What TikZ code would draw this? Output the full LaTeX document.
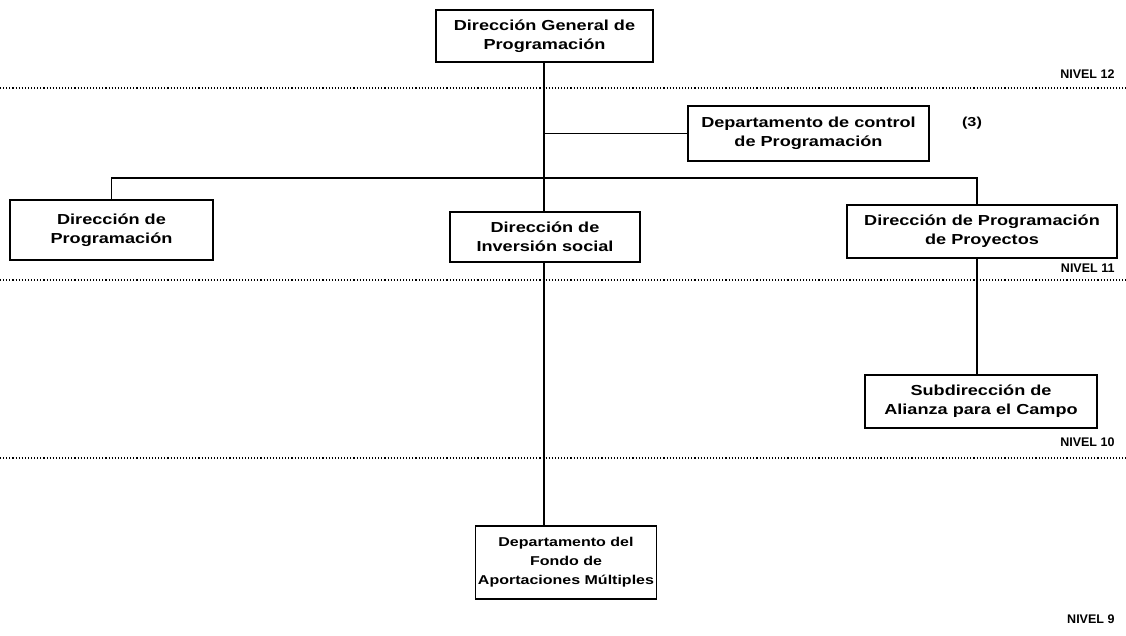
\documentclass[tikz,border=0pt]{standalone}
\usepackage{fontspec}
\setmainfont{Liberation Sans}[FakeStretch=1.25]
\newfontfamily\nivfont{Liberation Sans}
\begin{document}
\begin{tikzpicture}[x=1pt,y=-1pt,
    box/.style={draw,line width=1.1pt,align=center,font=\bfseries\fontsize{14.5}{19}\selectfont,inner sep=0pt},
    nivel/.style={anchor=east,font=\nivfont\bfseries\fontsize{12.5}{14}\selectfont},
    nivelline/.style={dotted,line width=1.1pt},
    link/.style={line width=1.2pt}]
    \useasboundingbox (0,0) rectangle (1126,635);

    % boxes
    \node[box,minimum width=217pt,minimum height=52pt] (dgp) at (544.5,36) {Dirección General de\\Programación};
    \node[box,minimum width=241pt,minimum height=55pt] (dcp) at (808.5,133.5) {Departamento de control\\de Programación};
    \node[box,minimum width=203pt,minimum height=60pt] (dp) at (111.5,230) {Dirección de\\Programación};
    \node[box,minimum width=190pt,minimum height=50pt] (dis) at (545,237) {Dirección de\\Inversión social};
    \node[box,minimum width=270pt,minimum height=53pt] (dpp) at (982,231.5) {Dirección de Programación\\de Proyectos};
    \node[box,minimum width=232pt,minimum height=53pt] (sac) at (981,401.5) {Subdirección de\\Alianza para el Campo};
    \node[box,minimum width=181pt,minimum height=73pt,font=\bfseries\fontsize{12.8}{19}\selectfont] (dfam) at (566,562.5) {Departamento del\\Fondo de\\Aportaciones Múltiples};
    \node[font=\bfseries\fontsize{13}{14}\selectfont] (tres) at (972,123) {(3)};

    % levels
    \draw[nivelline] (0,88) -- (1126,88);
    \draw[nivelline] (0,280) -- (1126,280);
    \draw[nivelline] (0,458) -- (1126,458);
    \node[nivel] (n12) at (1118,74) {NIVEL 12};
    \node[nivel] (n11) at (1118,268) {NIVEL 11};
    \node[nivel] (n10) at (1118,442) {NIVEL 10};
    \node[nivel] (n9) at (1118,619) {NIVEL 9};

    % connectors
    \coordinate (bar) at (544,178);
    \draw[link] (dgp.south -| bar) -- (dis.north -| bar);
    \draw[link] (bar |- dcp.west) -- (dcp.west);
    \draw[link] (dp.north) |- (bar) -| (dpp.north -| 977,0);
    \draw[link] (dpp.south -| 977,0) -- (sac.north -| 977,0);
    \draw[link] (dis.south -| bar) -- (dfam.north -| bar);
\end{tikzpicture}
\end{document}
